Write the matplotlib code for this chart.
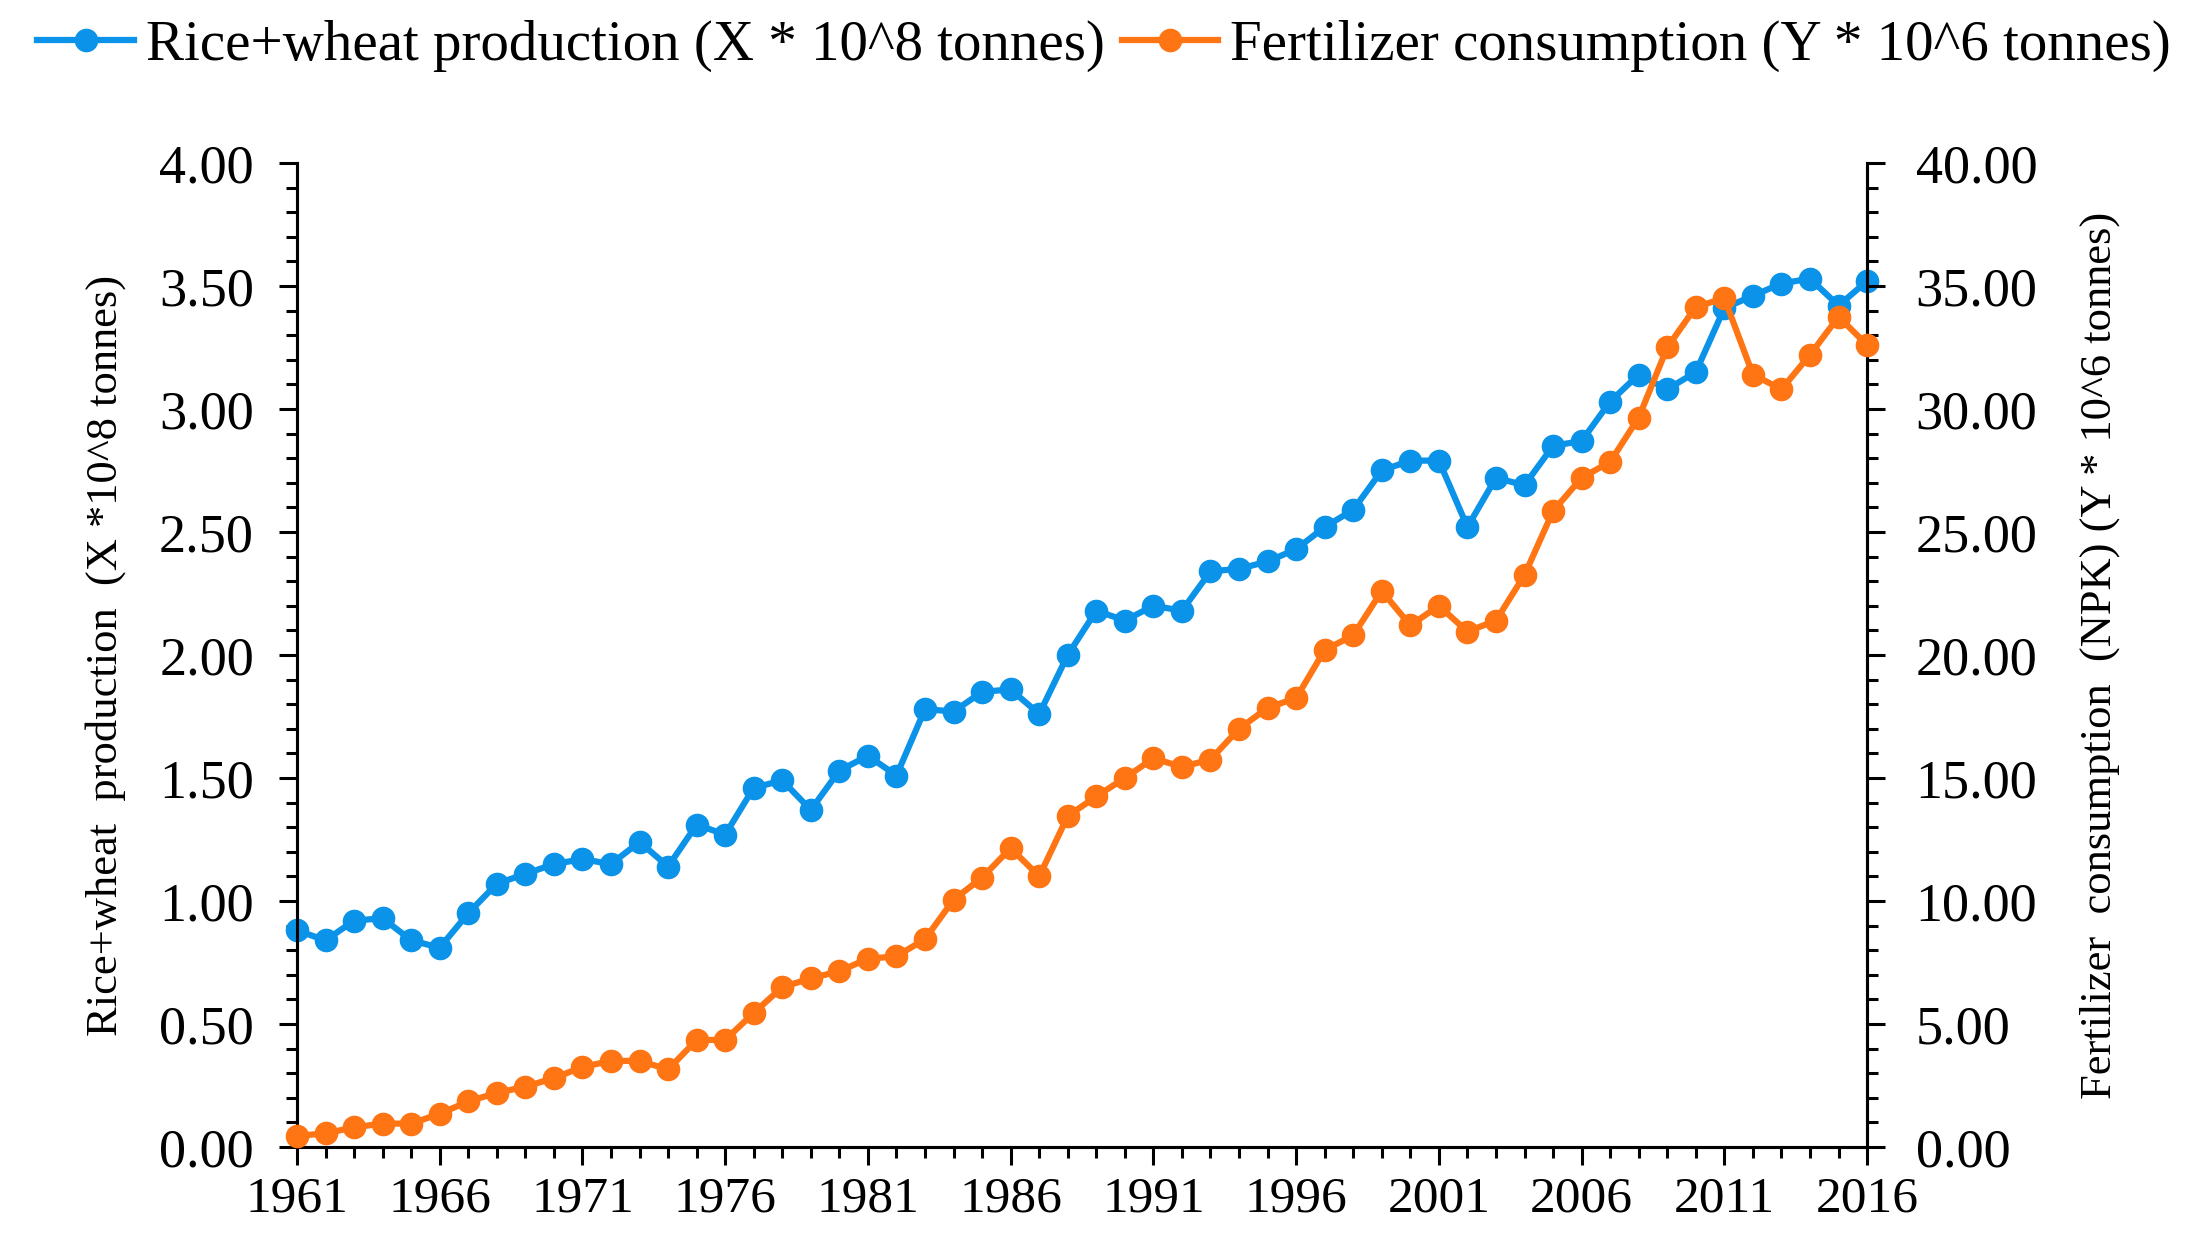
import matplotlib
matplotlib.use('Agg')
import matplotlib.pyplot as plt
from matplotlib.ticker import MultipleLocator, FormatStrFormatter

plt.rcParams['font.family'] = ['Liberation Serif', 'DejaVu Serif']

years = list(range(1961, 2017))

# rice + wheat production (x 10^8 tonnes)
production = [0.88, 0.84, 0.92, 0.93, 0.84, 0.81, 0.95, 1.07, 1.11, 1.15,
              1.17, 1.15, 1.24, 1.14, 1.31, 1.27, 1.46, 1.49, 1.37, 1.53,
              1.59, 1.51, 1.78, 1.77, 1.85, 1.86, 1.76, 2.00, 2.18, 2.14,
              2.20, 2.18, 2.34, 2.35, 2.38, 2.43, 2.52, 2.59, 2.75, 2.79,
              2.79, 2.52, 2.72, 2.69, 2.85, 2.87, 3.03, 3.14, 3.08, 3.15,
              3.41, 3.46, 3.51, 3.53, 3.42, 3.52]

# fertilizer consumption NPK (x 10^6 tonnes)
fertilizer = [0.45, 0.55, 0.8, 0.95, 0.95, 1.35, 1.85, 2.2, 2.45, 2.8,
              3.25, 3.5, 3.5, 3.15, 4.35, 4.35, 5.45, 6.5, 6.85, 7.15,
              7.65, 7.75, 8.45, 10.05, 10.95, 12.15, 11.0, 13.45, 14.25, 15.0,
              15.8, 15.45, 15.75, 17.0, 17.85, 18.25, 20.2, 20.8, 22.6, 21.2,
              22.0, 20.95, 21.4, 23.25, 25.85, 27.2, 27.85, 29.65, 32.5, 34.15,
              34.5, 31.4, 30.8, 32.2, 33.75, 32.6]

blue = '#0A93E8'
orange = '#FF7413'

fig = plt.figure(figsize=(22.08, 12.44), dpi=100)
ax = fig.add_axes([0.1345, 0.078, 0.8456 - 0.1345, 0.869 - 0.078])
ax2 = ax.twinx()

l1, = ax.plot(years, production, color=blue, lw=4.5, marker='o', ms=16,
              clip_on=False, zorder=3, label='Rice+wheat production (X * 10^8 tonnes)')
l2, = ax2.plot(years, fertilizer, color=orange, lw=4.5, marker='o', ms=16,
               clip_on=False, zorder=3, label='Fertilizer consumption (Y * 10^6 tonnes)')

ax.set_xlim(1961, 2016)
ax.set_ylim(0, 4)
ax2.set_ylim(0, 40)

ax.set_xticks(range(1961, 2017, 5))
ax.xaxis.set_minor_locator(MultipleLocator(1))
ax.yaxis.set_major_locator(MultipleLocator(0.5))
ax.yaxis.set_minor_locator(MultipleLocator(0.1))
ax.yaxis.set_major_formatter(FormatStrFormatter('%.2f'))
ax2.yaxis.set_major_locator(MultipleLocator(5))
ax2.yaxis.set_minor_locator(MultipleLocator(1))
ax2.yaxis.set_major_formatter(FormatStrFormatter('%.2f'))

for a in (ax, ax2):
    a.spines['top'].set_visible(False)
    for s in a.spines.values():
        s.set_linewidth(2.2)
    a.tick_params(which='major', length=13, width=2.2, labelsize=39, direction='out')
    a.tick_params(which='minor', length=8, width=2.2, direction='out')
ax.tick_params(axis='y', pad=18)
ax2.tick_params(axis='y', pad=22)
ax.tick_params(axis='x', labelsize=37, pad=8)

ax.set_ylabel('Rice+wheat  production  (X *10^8 tonnes)', fontsize=32, labelpad=24)
ax2.set_ylabel('Fertilizer  consumption  (NPK) (Y * 10^6 tonnes)', fontsize=32, labelpad=30)

fig.legend(handles=[l1, l2], loc='center', bbox_to_anchor=(0.5, 0.963), ncol=2,
           frameon=False, fontsize=41, handlelength=1.7, handletextpad=0.2,
           columnspacing=0.3, borderaxespad=0)

fig.savefig('out.png', dpi=100, facecolor='white')
